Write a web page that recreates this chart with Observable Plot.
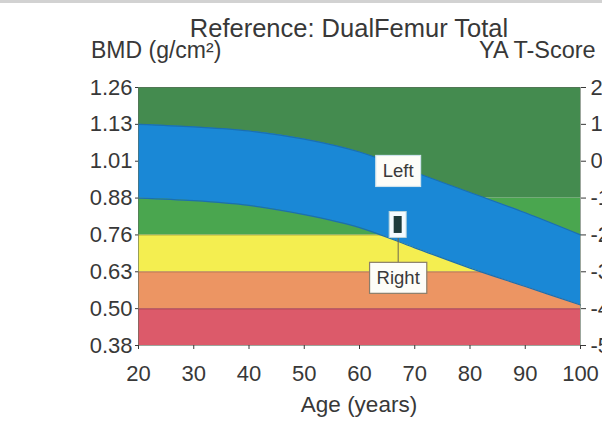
<!DOCTYPE html>
<html><head><meta charset="utf-8">
<script src="https://cdn.jsdelivr.net/npm/d3@7"></script>
<script src="https://cdn.jsdelivr.net/npm/@observablehq/plot@0.6"></script>
<style>
body{margin:0;background:#fff;}
#wrap{position:relative;width:602px;height:427px;overflow:hidden;font-family:"Liberation Sans",Arial,sans-serif;color:#383838;}
.t{position:absolute;white-space:nowrap;line-height:1;}
#topline{position:absolute;left:0;top:0;width:602px;height:3px;background:#d2d2d2;}
#chart{position:absolute;left:0;top:0;}
</style></head><body>
<div id="wrap">
  <div id="chart"></div>
  <div id="topline"></div>
  <div class="t" style="font-size:25.5px;top:16px;left:0;width:698px;text-align:center">Reference: DualFemur Total</div>
  <div class="t" style="font-size:23px;top:39px;left:91px">BMD (g/cm²)</div>
  <div class="t" style="font-size:23.5px;top:39px;left:479px">YA T-Score</div>
  <div class="t" style="font-size:22.5px;top:394px;left:0;width:718px;text-align:center">Age (years)</div>
</div>
<script>
// ---- data ----
const ages = [20, 30, 40, 50, 60, 70, 80, 90, 100];
const upperT = [1.0, 0.93, 0.82, 0.6, 0.25, -0.3, -0.85, -1.4, -2.0];
const lowerT = [-1.0, -1.07, -1.2, -1.45, -1.8, -2.35, -2.9, -3.4, -3.9];
const tScoreTicks = [2, 1, 0, -1, -2, -3, -4, -5];
const bmdLabels = ["1.26", "1.13", "1.01", "0.88", "0.76", "0.63", "0.50", "0.38"];
const ageTicks = [20, 30, 40, 50, 60, 70, 80, 90, 100];
const bandFrom = [-5, -4, -3, -2, -1];
const bandTo = [-4, -3, -2, -1, 2];
const bandColors = ["#dc5a6a", "#ec9563", "#f4ee50", "#4aa64f", "#448b4f"];
const patientAge = 67;
const leftT = -1.5;
const rightT = -1.96;
const calloutText = ["Left", "Right"];
const calloutT = [-0.28, -3.18];

const bands = bandFrom.map((d, i) => ({y1: d, y2: bandTo[i], fill: bandColors[i]}));
const callouts = calloutText.map((s, i) => ({s, t: calloutT[i]}));
const ageMin = d3.min(ages), ageMax = d3.max(ages);

const chart = Plot.plot({
  width: 602,
  height: 427,
  marginLeft: 138,
  marginRight: 22,
  marginTop: 87,
  marginBottom: 82,
  x: {domain: [ageMin, ageMax]},
  y: {domain: [-5, 2]},
  color: {type: "identity"},
  style: {fontFamily: "Liberation Sans, Arial, sans-serif", color: "#383838", background: "transparent"},
  marks: [
    Plot.rect(bands, {x1: ageMin, x2: ageMax, y1: "y1", y2: "y2", fill: "fill"}),
    Plot.ruleY([-4, -3, -2], {stroke: "#000", strokeOpacity: 0.18, strokeWidth: 1.5}),
    Plot.areaY(ages, {x: ages, y1: lowerT, y2: upperT, fill: "#1a88d6", curve: "monotone-x"}),
    Plot.line(ages, {x: ages, y: upperT, stroke: "#1b6fb0", strokeWidth: 1.2, curve: "monotone-x"}),
    Plot.line(ages, {x: ages, y: lowerT, stroke: "#1b6fb0", strokeWidth: 1.2, curve: "monotone-x"}),
    Plot.ruleX([patientAge], {y1: rightT, y2: calloutT[1], stroke: "#6b6650", strokeWidth: 1}),
    Plot.rect([patientAge], {x1: d => d, x2: d => d, y1: rightT, y2: leftT,
      insetLeft: -8.5, insetRight: -8.5, insetTop: -4.5, insetBottom: -4.5, fill: "#f4fbff", stroke: "#b8d4dc", strokeWidth: 1}),
    Plot.rect([patientAge], {x1: d => d, x2: d => d, y1: rightT, y2: leftT,
      insetLeft: -4, insetRight: -4, fill: "#1d3b3c"}),
    Plot.text(callouts, {x: patientAge, y: "t", text: "s", fontSize: 18.5, fill: "#3a3a3a"}),
    Plot.frame({stroke: "#5a6a5a", strokeOpacity: 0.6}),
    Plot.axisY(tScoreTicks, {anchor: "left", tickSize: 3, tickPadding: 3, fontSize: 22, label: null,
      tickFormat: d => bmdLabels[tScoreTicks.indexOf(d)], color: "#383838"}),
    Plot.axisY(tScoreTicks, {anchor: "right", tickSize: 5, tickPadding: 5, fontSize: 22, label: null,
      tickFormat: d => String(d), color: "#383838"}),
    Plot.axisX(ageTicks, {anchor: "bottom", tickSize: 4, tickPadding: 16, fontSize: 22, label: null,
      tickFormat: d => String(d), color: "#383838"})
  ]
});
document.getElementById("chart").appendChild(chart);

// white boxes behind callout labels
const svgNS = "http://www.w3.org/2000/svg";
chart.querySelectorAll('g[aria-label="text"] text').forEach(t => {
  const b = t.getBBox();
  const r = document.createElementNS(svgNS, "rect");
  const px = 7, py = 5;
  r.setAttribute("x", b.x - px);
  r.setAttribute("y", b.y - py);
  r.setAttribute("width", b.width + 2 * px);
  r.setAttribute("height", b.height + 2 * py);
  r.setAttribute("fill", "#fdfdf8");
  r.setAttribute("stroke", t.textContent === "Right" ? "#8a7e6a" : "#cfe3ec");
  r.setAttribute("stroke-width", "1.2");
  const tr = t.getAttribute("transform");
  if (tr) r.setAttribute("transform", tr);
  t.parentNode.insertBefore(r, t);
});
</script>
</body></html>
